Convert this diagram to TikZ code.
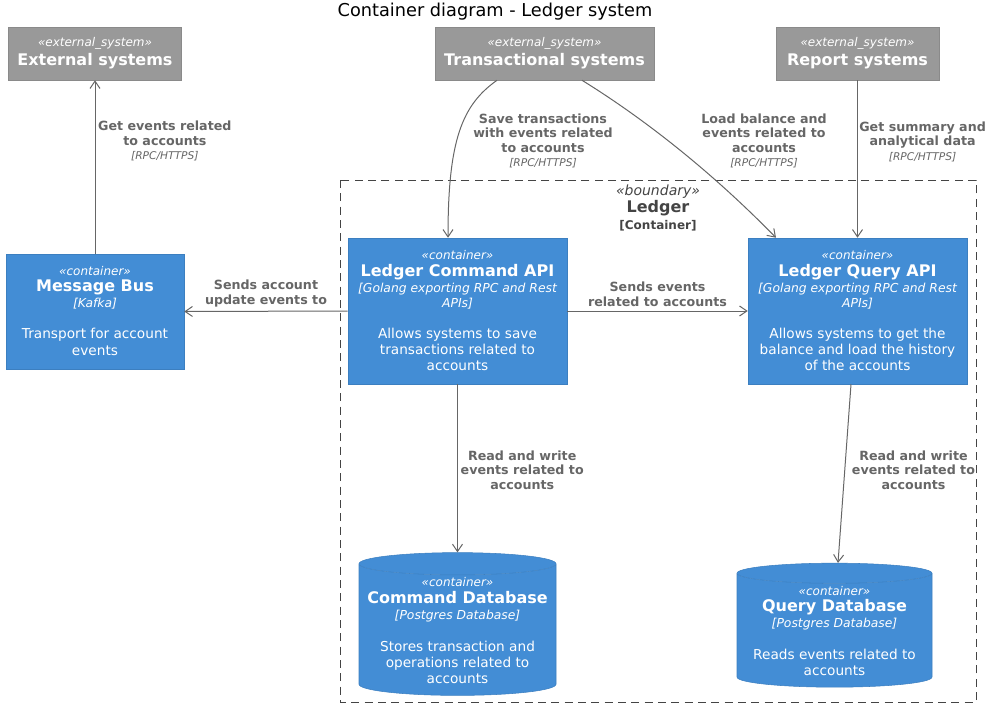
\documentclass[tikz,border=0pt]{standalone}
\usepackage{fontspec}
\setmainfont{DejaVu Sans}
\usetikzlibrary{calc, arrows.meta, positioning, shapes.geometric}

\definecolor{extgray}{HTML}{999999}
\definecolor{extborder}{HTML}{8A8A8A}
\definecolor{contblue}{HTML}{438DD5}
\definecolor{contborder}{HTML}{3C7FC0}
\definecolor{relgray}{HTML}{666666}
\definecolor{bndgray}{HTML}{444444}

\newcommand{\stereo}[1]{{\fontsize{9}{11}\selectfont\itshape «#1»}}
\newcommand{\elname}[1]{{\fontsize{12}{14}\selectfont\bfseries #1}}
\newcommand{\eltech}[1]{{\fontsize{9.25}{11}\selectfont\itshape #1}}
\newcommand{\reltech}[1]{{\fontsize{8}{9}\selectfont\mdseries\itshape [#1]}}

\tikzset{
  extsys/.style={draw=extborder, fill=extgray, text=white, align=center,
    font=\fontsize{10}{12.75}\selectfont, minimum height=39.75pt, inner sep=2pt},
  contbox/.style={draw=contborder, fill=contblue, text=white, align=center,
    font=\fontsize{10.25}{12}\selectfont, inner sep=2pt},
  contdb/.style={cylinder, shape border rotate=90, aspect=0.12, draw=contborder,
    cylinder uses custom fill, cylinder body fill=contblue, cylinder end fill=contblue,
    text=white, align=center, font=\fontsize{10.25}{12}\selectfont, inner sep=2pt},
  rel/.style={draw=relgray, line width=0.75pt, -{Straight Barb[length=5.5pt, width=7.5pt]}},
  rellbl/.style={text=relgray, align=center, font=\fontsize{9.5}{10.9}\selectfont\bfseries, inner sep=1pt}
}

\begin{document}
\begin{tikzpicture}[x=0.75pt, y=-0.75pt]
    \useasboundingbox (0,0) rectangle (1002,707);

    % --- Title ---
    \node[font=\fontsize{13.3}{15}\selectfont] (title) at (495,12) {Container diagram - Ledger system};

    % --- External systems ---
    \node[extsys, minimum width=129.75pt] (extsys) at (95,53.5)
      {\stereo{external\_system}\\[1.5pt]\elname{External systems}};
    \node[extsys, minimum width=164.25pt] (txsys) at (544.5,53.5)
      {\stereo{external\_system}\\[1.5pt]\elname{Transactional systems}};
    \node[extsys, minimum width=122.25pt] (repsys) at (857.5,53.5)
      {\stereo{external\_system}\\[1.5pt]\elname{Report systems}};

    % --- Boundary ---
    \draw[bndgray, dashed, line width=0.75pt, dash pattern=on 6pt off 4pt] (340,180) rectangle (976,702);
    \node[text=bndgray, align=center, font=\fontsize{10}{12.4}\selectfont] (bndlbl) at (658,208)
      {{\fontsize{10.5}{12}\selectfont\itshape «boundary»}\\
       {\fontsize{12}{14}\selectfont\bfseries Ledger}\\
       {\fontsize{9}{10}\selectfont\bfseries [Container]}};

    % --- Containers ---
    \node[contbox, minimum width=133.5pt, minimum height=86.25pt] (mbus) at (95,311.5)
      {\stereo{container}\\\elname{Message Bus}\\\eltech{[Kafka]}\\[11.25pt]
       Transport for account\\[0.75pt]events};
    \node[contbox, minimum width=164.25pt, minimum height=109.5pt] (cmdapi) at (457.5,311)
      {\stereo{container}\\[0.75pt]\elname{Ledger Command API}\\\eltech{[Golang exporting RPC and Rest}\\[-0.75pt]\eltech{APIs]}\\[11.25pt]
       Allows systems to save\\transactions related to\\accounts};
    \node[contbox, minimum width=164.25pt, minimum height=109.5pt] (qryapi) at (857.5,311)
      {\stereo{container}\\[0.75pt]\elname{Ledger Query API}\\\eltech{[Golang exporting RPC and Rest}\\[-0.75pt]\eltech{APIs]}\\[11.25pt]
       Allows systems to get the\\balance and load the history\\of the accounts};

    % --- Databases ---
    \node[contdb, minimum width=147.75pt, minimum height=105.75pt] (cmddb) at (457.5,631)
      {\stereo{container}\\[0.75pt]\elname{Command Database}\\\eltech{[Postgres Database]}\\[12pt]
       Stores transaction and\\operations related to\\accounts};
    \node[contdb, minimum width=146.25pt, minimum height=93pt] (qrydb) at (834.5,631.5)
      {\stereo{container}\\\elname{Query Database}\\\eltech{[Postgres Database]}\\[12pt]
       Reads events related to\\accounts};

    % --- Relations ---
    \draw[rel] (mbus.north) -- (extsys.south)
      node[rellbl, pos=0.65, anchor=west, xshift=1pt] {Get events related\\to accounts\\\reltech{RPC/HTTPS}};
    \draw[rel] ($(txsys.south)+(-47.5,0)$) .. controls (462,105) and (448,140) .. ($(cmdapi.north)+(-9.5,0)$)
      node[rellbl] at (543,141) {Save transactions\\with events related\\to accounts\\\reltech{RPC/HTTPS}};
    \draw[rel] ($(txsys.south)+(37.5,0)$) .. controls (630,110) and (700,160) .. ($(qryapi.north)+(-81.5,0)$)
      node[rellbl] at (764,141) {Load balance and\\events related to\\accounts\\\reltech{RPC/HTTPS}};
    \draw[rel] (repsys.south) -- (qryapi.north)
      node[rellbl, pos=0.39, anchor=west] {Get summary and\\analytical data\\\reltech{RPC/HTTPS}};
    \draw[rel] (cmdapi.west) -- (mbus.east)
      node[rellbl, midway, above, yshift=2pt] {Sends account\\update events to};
    \draw[rel] (cmdapi.east) -- (qryapi.west)
      node[rellbl, midway, above, yshift=2pt] {Sends events\\related to accounts};
    \draw[rel] (cmdapi.south) -- (cmddb.north)
      node[rellbl, pos=0.51, anchor=west, xshift=1pt] {Read and write\\events related to\\accounts};
    \draw[rel] ($(qryapi.south)+(-6.5,0)$) -- ($(qrydb.north)+(3.5,0)$)
      node[rellbl, pos=0.48, anchor=west, xshift=4pt] {Read and write\\events related to\\accounts};
\end{tikzpicture}
\end{document}
